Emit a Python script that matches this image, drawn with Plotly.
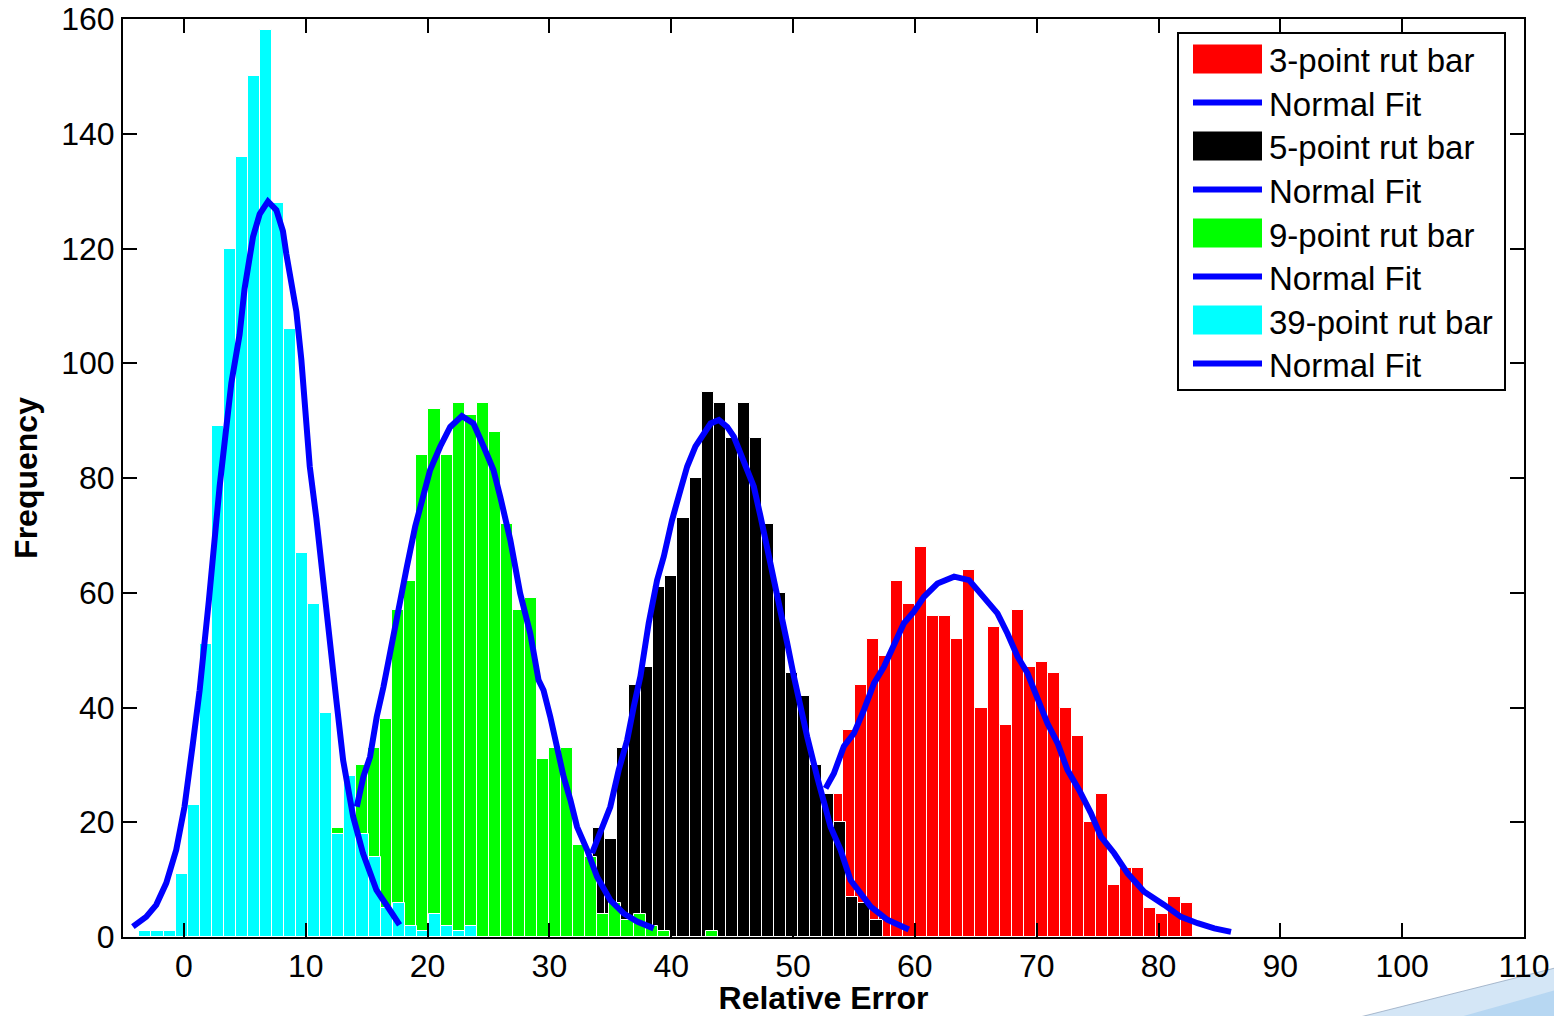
import plotly.graph_objects as go

# ---------------- data ----------------
BIN = 0.99  # histogram bin width (x units)

red_start = 53.59
red_counts = [25, 36, 44, 52, 49, 62, 58, 68, 56, 56, 52, 64, 40, 54, 37, 57, 47, 48,
              46, 40, 35, 20, 25, 9, 12, 12, 5, 4, 7, 6]

black_start = 34.08
black_counts = [19, 17, 33, 44, 47, 61, 63, 73, 80, 95, 93, 87, 93, 87, 72, 60, 46, 42,
                30, 25, 20, 7, 6, 3]

green_start = 12.65
green_counts = [19, 24, 30, 33, 38, 57, 62, 84, 92, 84, 93, 91, 93, 88, 72, 57, 59, 31,
                33, 33, 16, 14, 4, 6, 3, 4, 2, 1, 0, 0, 0, 1]

cyan_start = -3.16
cyan_counts = [1, 1, 1, 11, 23, 51, 89, 120, 136, 150, 158, 128, 106, 67, 58, 39, 18, 28,
               18, 14, 5, 6, 2, 1, 4, 2, 1, 2]

red_fit_x = [52.67, 53.35, 54.17, 55.0, 55.82, 56.64, 57.46, 58.28, 59.1, 59.92, 60.75,
             61.85, 63.22, 64.45, 65.68, 66.78, 67.6, 68.42, 69.24, 70.06, 70.89, 71.71,
             72.53, 73.49, 74.45, 75.27, 76.36, 77.46, 78.82, 80.47, 81.84, 83.21, 84.58, 85.95]
red_fit_y = [25.9, 28.5, 33.2, 35.5, 39.6, 44.2, 47.1, 51.2, 54.7, 56.7, 59.3,
             61.6, 62.8, 62.2, 59.3, 56.4, 52.9, 48.9, 46.0, 41.9, 37.2, 33.8,
             29.1, 25.6, 21.6, 17.5, 14.6, 11.1, 7.9, 5.6, 3.5, 2.4, 1.5, 0.9]

black_fit_x = [33.5, 34.18, 35.0, 35.69, 36.38, 36.92, 37.47, 38.15, 38.84, 39.39, 40.07,
               40.76, 41.31, 41.99, 42.68, 43.23, 43.91, 44.6, 45.14, 45.69, 46.24, 46.78,
               47.33, 47.88, 48.42, 48.97, 49.52, 50.07, 50.34, 51.16, 51.98, 52.53, 53.08,
               53.9, 54.72, 55.55, 56.37, 57.74, 59.5]
black_fit_y = [14.6, 18.6, 22.7, 29.1, 34.3, 40.1, 45.4, 54.7, 62.2, 66.3, 72.7,
               77.9, 82.0, 85.5, 87.8, 89.5, 90.1, 88.9, 87.2, 84.3, 80.8, 78.5,
               73.3, 68.0, 62.2, 56.4, 51.2, 45.4, 42.5, 34.9, 27.9, 23.9, 19.2,
               15.2, 9.9, 7.6, 5.3, 3.0, 1.3]

green_fit_x = [14.19, 14.73, 15.28, 15.83, 16.38, 16.93, 17.48, 18.3, 18.98, 19.66, 20.21,
               21.04, 21.86, 22.82, 23.77, 24.6, 25.41, 25.97, 26.79, 27.6, 28.43, 29.11,
               29.52, 30.07, 30.62, 31.17, 31.72, 32.27, 33.09, 33.91, 35.0, 36.1, 37.2, 38.56]
green_fit_y = [22.7, 27.9, 31.4, 38.4, 43.6, 50.0, 56.4, 64.5, 71.5, 77.3, 81.4,
               85.5, 88.9, 90.8, 89.5, 85.5, 81.4, 76.7, 69.2, 59.9, 52.9, 44.8,
               43.0, 38.4, 32.6, 27.9, 23.9, 19.2, 15.2, 10.5, 6.4, 4.1, 2.7, 1.5]

cyan_fit_x = [-4.19, -3.1, -2.27, -1.45, -0.63, 0.05, 0.74, 1.29, 2.05, 2.93, 3.89, 4.57,
              4.98, 5.67, 6.22, 6.9, 7.59, 8.13, 8.41, 8.96, 9.23, 9.64, 9.92, 10.33, 10.87,
              11.28, 11.97, 12.51, 13.07, 13.89, 14.7, 15.8, 16.9, 17.7]
cyan_fit_y = [1.8, 3.5, 5.6, 9.4, 15.2, 22.7, 33.8, 43.0, 58.7, 78.5, 96.5, 105.0,
              113.0, 122.0, 126.0, 128.2, 126.7, 123.0, 119.0, 112.8, 109.0, 100.6, 91.9, 82.0, 73.0,
              64.5, 50.0, 41.3, 30.8, 21.0, 14.6, 8.2, 4.7, 2.1]

series_names = ["3-point rut bar", "5-point rut bar", "9-point rut bar", "39-point rut bar"]
fit_name = "Normal Fit"
x_tick_vals = [0, 10, 20, 30, 40, 50, 60, 70, 80, 90, 100, 110]
y_tick_vals = [0, 20, 40, 60, 80, 100, 120, 140, 160]

# ---------------- figure ----------------
RED, BLACK, GREEN, CYAN, BLUE = "#FF0000", "#000000", "#00FF00", "#00FFFF", "#0000FF"
FONT = "Liberation Sans, Arial, Helvetica, sans-serif"

def centers(start, n):
    return [start + i * BIN for i in range(n)]

fig = go.Figure()
hist = [
    (series_names[0], red_start, red_counts, RED, red_fit_x, red_fit_y),
    (series_names[1], black_start, black_counts, BLACK, black_fit_x, black_fit_y),
    (series_names[2], green_start, green_counts, GREEN, green_fit_x, green_fit_y),
    (series_names[3], cyan_start, cyan_counts, CYAN, cyan_fit_x, cyan_fit_y),
]
for name, start, counts, col, fx, fy in hist:
    fig.add_trace(go.Bar(x=centers(start, len(counts)), y=counts, width=BIN, name=name,
                         marker=dict(color=col, line=dict(color="#FFFFFF", width=1)),
                         showlegend=False))
for name, start, counts, col, fx, fy in hist:
    fig.add_trace(go.Scatter(x=fx, y=fy, mode="lines", name=fit_name,
                             line=dict(color=BLUE, width=6), showlegend=False))

# page has an 8px body margin: figure is 1554x1008 placed at (8, 8)
W, H = 1554, 1008
L, R, T, B = 115, 38, 11, 79
# plot area in screen pixels
SX0, SX1, SY0, SY1 = 123, 1524, 19, 937

def px(sx):
    return (sx - SX0) / (SX1 - SX0)

def py(sy):
    return (SY1 - sy) / (SY1 - SY0)

shapes = []
annotations = []
# decorative swoosh at bottom-right corner (slide background)
shapes.append(dict(type="path", xref="paper", yref="paper", layer="below",
                   path="M {} {} L {} {} L {} {} Z".format(px(1360), py(1017), px(1563), py(966),
                                                        px(1563), py(1017)),
                   fillcolor="rgba(170,205,238,0.5)", line=dict(color="rgba(140,160,185,0.7)", width=1)))
shapes.append(dict(type="path", xref="paper", yref="paper", layer="below",
                   path="M {} {} L {} {} L {} {} Z".format(px(1460), py(1017), px(1563), py(988),
                                                        px(1563), py(1017)),
                   fillcolor="rgba(130,185,235,0.35)", line=dict(width=0)))
# legend box
shapes.append(dict(type="rect", xref="paper", yref="paper", x0=px(1178), x1=px(1505),
                   y0=py(390), y1=py(33), line=dict(color="black", width=2),
                   fillcolor="white", layer="above"))
legend_items = [
    (series_names[0], "bar", RED), (fit_name, "line", BLUE),
    (series_names[1], "bar", BLACK), (fit_name, "line", BLUE),
    (series_names[2], "bar", GREEN), (fit_name, "line", BLUE),
    (series_names[3], "bar", CYAN), (fit_name, "line", BLUE),
]
row0, step = 59.0, 43.5
for i, (label, kind, col) in enumerate(legend_items):
    cy = row0 + i * step
    if kind == "bar":
        shapes.append(dict(type="rect", xref="paper", yref="paper", x0=px(1193), x1=px(1262),
                           y0=py(cy + 14.5), y1=py(cy - 14.5), line=dict(width=0),
                           fillcolor=col, layer="above"))
    else:
        shapes.append(dict(type="line", xref="paper", yref="paper", x0=px(1193), x1=px(1262),
                           y0=py(cy), y1=py(cy), line=dict(color=col, width=6), layer="above"))
    annotations.append(dict(text=label, xref="paper", yref="paper", x=px(1267), y=py(cy + 2),
                            xanchor="left", yanchor="middle", showarrow=False,
                            font=dict(family=FONT, size=33, color="black")))

axis_common = dict(showline=True, linecolor="black", linewidth=2, mirror="allticks",
                   ticks="inside", ticklen=14, tickwidth=1.5, tickcolor="black",
                   showgrid=False, zeroline=False, ticklabeloverflow="allow",
                   tickfont=dict(family=FONT, size=32, color="black"))

fig.update_layout(
    width=W, height=H,
    margin=dict(l=L, r=R, t=T, b=B, autoexpand=False),
    paper_bgcolor="white", plot_bgcolor="white",
    barmode="overlay", bargap=0,
    xaxis=dict(range=[-5, 110], tickvals=x_tick_vals, **axis_common,
               title=dict(text="<b>Relative Error</b>", standoff=1,
                          font=dict(family=FONT, size=32, color="black"))),
    yaxis=dict(range=[0, 160], tickvals=y_tick_vals, **axis_common,
               title=dict(text="<b>Frequency</b>", standoff=14,
                          font=dict(family=FONT, size=32, color="black"))),
    shapes=shapes, annotations=annotations,
    showlegend=False,
)

fig.write_html("out.html")
